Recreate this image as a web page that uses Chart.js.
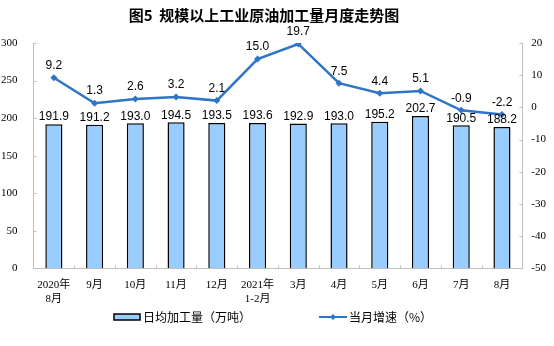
<!DOCTYPE html>
<html>
<head>
<meta charset="utf-8">
<script src="https://cdn.jsdelivr.net/npm/chart.js@4.4.1/dist/chart.umd.min.js"></script>
<style>
  html, body { margin: 0; padding: 0; background: #fff; }
</style>
</head>
<body>
<canvas id="chart" width="554" height="346"></canvas>
<script>
const months = [['2020年', '8月'], '9月', '10月', '11月', '12月', ['2021年', '1-2月'], '3月', '4月', '5月', '6月', '7月', '8月'];
const dailyOutput = [191.9, 191.2, 193.0, 194.5, 193.5, 193.6, 192.9, 193.0, 195.2, 202.7, 190.5, 188.2];
const monthlyGrowth = [9.2, 1.3, 2.6, 3.2, 2.1, 15.0, 19.7, 7.5, 4.4, 5.1, -0.9, -2.2];

const barFill = '#99CCFF';
const lineBlue = '#2E74C8';
const axisGray = '#BFBFBF';
const serif = '"Liberation Serif", "Noto Sans CJK SC", serif';
const cjk = '"Noto Sans CJK SC", "Liberation Sans", sans-serif';

// value labels over bars and line points
const valueLabels = {
  id: 'valueLabels',
  afterDatasetsDraw(chart) {
    const ctx = chart.ctx;
    ctx.save();
    ctx.font = '12px "Liberation Sans", Arial, sans-serif';
    ctx.fillStyle = '#000';
    ctx.textAlign = 'center';
    ctx.textBaseline = 'bottom';
    chart.getDatasetMeta(0).data.forEach((bar, i) => {
      ctx.fillText(dailyOutput[i].toFixed(1), bar.x, bar.y - 1);
    });
    chart.getDatasetMeta(1).data.forEach((pt, i) => {
      ctx.fillText(monthlyGrowth[i].toFixed(1), pt.x, pt.y - 6);
    });
    ctx.restore();
  }
};

// short tick marks pointing into the plot on all three axes
const innerTicks = {
  id: 'innerTicks',
  afterDraw(chart) {
    const ctx = chart.ctx;
    ctx.save();
    ctx.strokeStyle = axisGray;
    ctx.lineWidth = 1;
    const left = chart.scales.y;
    const right = chart.scales.y1;
    const x = chart.scales.x;
    left.ticks.forEach(t => {
      const y = Math.round(left.getPixelForValue(t.value)) + 0.5;
      ctx.beginPath();
      ctx.moveTo(left.right, y);
      ctx.lineTo(left.right + 3, y);
      ctx.stroke();
    });
    right.ticks.forEach(t => {
      const y = Math.round(right.getPixelForValue(t.value)) + 0.5;
      ctx.beginPath();
      ctx.moveTo(right.left, y);
      ctx.lineTo(right.left - 3, y);
      ctx.stroke();
    });
    const step = (x.right - x.left) / months.length;
    for (let k = 1; k < months.length; k++) {
      const px = Math.round(x.left + k * step) + 0.5;
      ctx.beginPath();
      ctx.moveTo(px, x.top);
      ctx.lineTo(px, x.top - 3);
      ctx.stroke();
    }
    ctx.restore();
  }
};

// title and legend row
const chartDecor = {
  id: 'chartDecor',
  afterDraw(chart) {
    const ctx = chart.ctx;
    ctx.save();
    ctx.font = 'bold 15px ' + cjk;
    ctx.fillStyle = '#000';
    ctx.textAlign = 'center';
    ctx.textBaseline = 'middle';
    ctx.fillText('图5  规模以上工业原油加工量月度走势图', 264, 15);

    const y = 317;
    ctx.textAlign = 'left';
    ctx.font = '12px ' + cjk;
    ctx.fillStyle = barFill;
    ctx.fillRect(114, y - 3, 26, 6);
    ctx.strokeStyle = '#000';
    ctx.lineWidth = 1.5;
    ctx.strokeRect(114, y - 3, 26, 6);
    ctx.fillStyle = '#000';
    ctx.fillText('日均加工量（万吨）', 143, y);

    ctx.strokeStyle = lineBlue;
    ctx.lineWidth = 2;
    ctx.beginPath();
    ctx.moveTo(319, y);
    ctx.lineTo(347, y);
    ctx.stroke();
    ctx.fillStyle = lineBlue;
    ctx.beginPath();
    ctx.moveTo(333, y - 3);
    ctx.lineTo(336, y);
    ctx.lineTo(333, y + 3);
    ctx.lineTo(330, y);
    ctx.closePath();
    ctx.fill();
    ctx.fillStyle = '#000';
    ctx.fillText('当月增速（%）', 349, y);
    ctx.restore();
  }
};

new Chart(document.getElementById('chart'), {
  data: {
    labels: months,
    datasets: [
      {
        type: 'bar',
        label: '日均加工量（万吨）',
        data: dailyOutput,
        backgroundColor: barFill,
        borderColor: '#000',
        borderWidth: 1.5,
        barPercentage: 0.42,
        categoryPercentage: 1,
        yAxisID: 'y',
        order: 2
      },
      {
        type: 'line',
        label: '当月增速（%）',
        data: monthlyGrowth,
        borderColor: lineBlue,
        backgroundColor: lineBlue,
        borderWidth: 2.5,
        pointStyle: 'rectRot',
        pointRadius: 3.5,
        pointBorderWidth: 0,
        tension: 0,
        yAxisID: 'y1',
        order: 1
      }
    ]
  },
  options: {
    responsive: false,
    animation: false,
    devicePixelRatio: 1,
    // tick padding counts twice in an axis width, so the outer edges are pulled in
    layout: { padding: { left: -15, right: -1, top: 43, bottom: 30 } },
    plugins: {
      legend: { display: false },
      tooltip: { enabled: false },
      title: { display: false }
    },
    scales: {
      x: {
        offset: true,
        grid: { display: false, drawTicks: false },
        border: { display: true, color: axisGray },
        ticks: { color: '#000', font: { family: serif, size: 11, lineHeight: 1.35 }, padding: 9, maxRotation: 0, autoSkip: false }
      },
      y: {
        position: 'left',
        min: 0,
        max: 300,
        grid: { display: false, drawTicks: false },
        border: { display: true, color: axisGray },
        ticks: { stepSize: 50, color: '#000', font: { family: serif, size: 11 }, padding: 16 }
      },
      y1: {
        position: 'right',
        min: -50,
        max: 20,
        grid: { display: false, drawTicks: false },
        border: { display: true, color: axisGray },
        ticks: { stepSize: 10, color: '#000', font: { family: serif, size: 11 }, padding: 9 }
      }
    }
  },
  plugins: [valueLabels, innerTicks, chartDecor]
});
</script>
</body>
</html>
